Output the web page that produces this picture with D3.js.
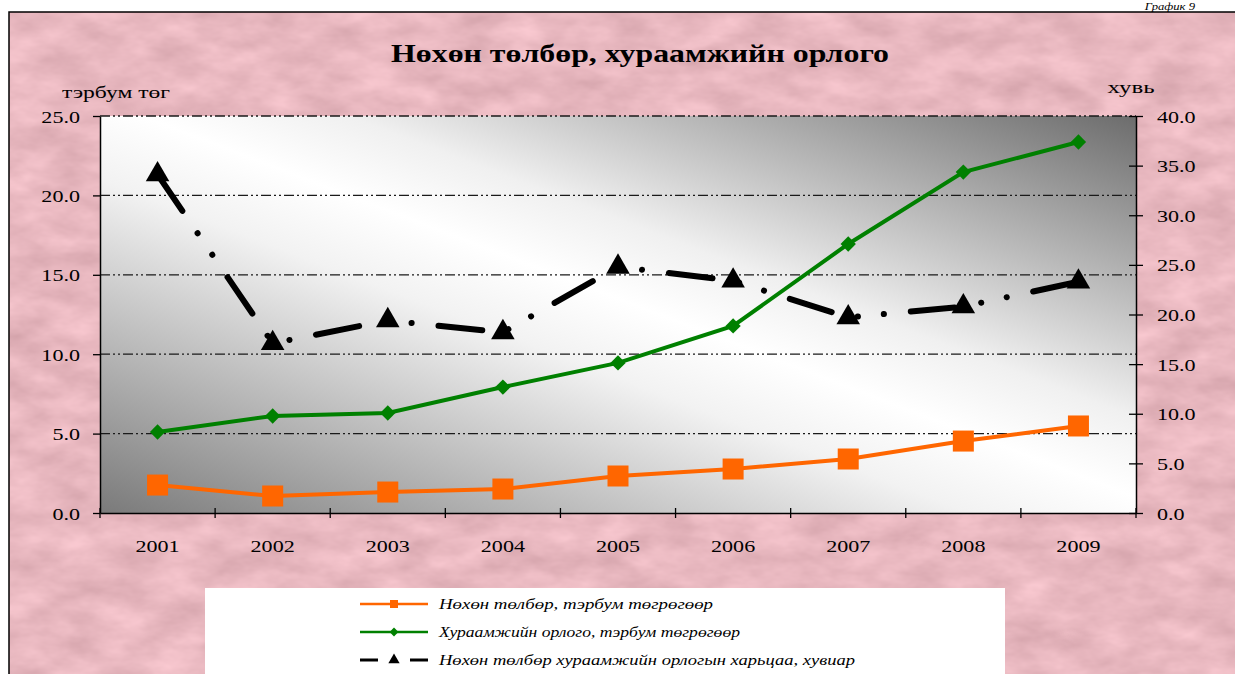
<!DOCTYPE html>
<html><head><meta charset="utf-8">
<script src="https://cdn.jsdelivr.net/npm/d3@7"></script>
<style>body{margin:0;background:#fff;overflow:hidden} svg{display:block}</style>
</head><body><svg id="c" width="1235" height="674"></svg>
<script>
// ---- data ----
const years = ["2001","2002","2003","2004","2005","2006","2007","2008","2009"];
const payout = [1.76,1.07,1.32,1.51,2.33,2.77,3.40,4.53,5.48];        // Нөхөн төлбөр, тэрбум төгрөгөөр
const premium = [5.10,6.11,6.30,7.93,9.45,11.78,16.94,21.47,23.36];   // Хураамжийн орлого, тэрбум төгрөгөөр
const ratio = [34.1,17.1,19.4,18.2,24.8,23.4,19.7,20.8,23.3];        // харьцаа, хувиар
const leftTicks = [0,5,10,15,20,25];
const rightTicks = [0,5,10,15,20,25,30,35,40];
const seriesNames = ["Нөхөн төлбөр, тэрбум төгрөгөөр","Хураамжийн орлого, тэрбум төгрөгөөр","Нөхөн төлбөр хураамжийн орлогын харьцаа, хувиар"];
const titleText = "Нөхөн төлбөр, хураамжийн орлого";

const svg = d3.select("#c");
const defs = svg.append("defs");
const f = defs.append("filter").attr("id","paper").attr("x",0).attr("y",0).attr("width","100%").attr("height","100%")
  .attr("color-interpolation-filters","sRGB");
f.append("feTurbulence").attr("type","fractalNoise").attr("baseFrequency","0.02 0.04").attr("numOctaves",4).attr("seed",7);
f.append("feColorMatrix").attr("type","matrix").attr("values","0.18 0 0 0 0.82  0.18 0 0 0 0.63  0.18 0 0 0 0.66  0 0 0 0 1");
const g1 = defs.append("linearGradient").attr("id","plotbg").attr("x1",0).attr("y1",1).attr("x2",1).attr("y2",0);
[[0,"#7a7a7a"],[0.42,"#f2f2f2"],[0.52,"#ffffff"],[0.62,"#f0f0f0"],[1,"#6c6c6c"]].forEach(([o,c])=>g1.append("stop").attr("offset",o).attr("stop-color",c));

const SX = 1.3;
function txt(parent,x,y,s,o={}){
  const t = parent.append("text").attr("transform",`translate(${x},${y}) scale(${o.sx||SX},1)`)
    .attr("font-family",o.family||"'Liberation Serif','Times New Roman',serif")
    .attr("font-size",o.size||16).attr("font-weight",o.weight||"normal").attr("font-style",o.style||"normal")
    .attr("text-anchor",o.anchor||"start").attr("fill","#000").text(s);
  if(o.len){ t.attr("textLength",o.len/(o.sx||SX)).attr("lengthAdjust","spacingAndGlyphs"); }
  return t;
}

// page texts
txt(svg,1195,10,"График 9",{size:11,style:"italic",anchor:"end",sx:1.15});
// frame
svg.append("rect").attr("x",9).attr("y",12).attr("width",1240).attr("height",700).attr("filter","url(#paper)");
svg.append("rect").attr("x",9).attr("y",12).attr("width",1240).attr("height",700).attr("fill","none").attr("stroke","#000").attr("stroke-width",1.5);

const L=100,R=1136,T=116,B=513;
const x = d3.scaleBand().domain(years).range([L,R]);
const yL = d3.scaleLinear().domain([0,25]).range([B,T]);
const yR = d3.scaleLinear().domain([0,40]).range([B,T]);

svg.append("rect").attr("x",L).attr("y",T).attr("width",R-L).attr("height",B-T).attr("fill","url(#plotbg)");

// gridlines
svg.append("g").selectAll("line").data(leftTicks.filter(d=>d>0)).join("line")
  .attr("x1",L).attr("x2",R).attr("y1",d=>yL(d)).attr("y2",d=>yL(d))
  .attr("stroke","#1a1a1a").attr("stroke-width",1.3).attr("stroke-dasharray","10,3,2,3,2,3");

// axes
const axL = svg.append("g").attr("transform",`translate(${L},0)`)
  .call(d3.axisLeft(yL).tickValues(leftTicks).tickFormat(d3.format(".1f")).tickSize(7).tickSizeOuter(0));
const axR = svg.append("g").attr("transform",`translate(${R},0)`)
  .call(d3.axisRight(yR).tickValues(rightTicks).tickFormat(d3.format(".1f")).tickSize(7).tickSizeOuter(0));
const axB = svg.append("g").attr("transform",`translate(0,${B})`)
  .call(d3.axisBottom(x).tickSize(7).tickSizeOuter(0));
[axL,axR,axB].forEach(a=>{a.select(".domain").attr("stroke","#000").attr("stroke-width",1.5);a.selectAll(".tick line").attr("stroke","#000").attr("stroke-width",1.3);});
// bottom ticks at category boundaries
axB.selectAll(".tick line").remove();
axB.selectAll(".bnd").data(d3.range(years.length+1)).join("line").attr("class","bnd")
  .attr("x1",i=>L+i*x.step()).attr("x2",i=>L+i*x.step()).attr("y1",-5).attr("y2",5).attr("stroke","#000").attr("stroke-width",1.3);
axR.selectAll(".tick line").attr("x1",-7);
// stretched tick labels
axL.selectAll(".tick").each(function(d){const t=d3.select(this);t.select("text").remove();txt(t,-20,6,d3.format(".1f")(d),{anchor:"end",size:17});});
axR.selectAll(".tick").each(function(d){const t=d3.select(this);t.select("text").remove();txt(t,21,6,d3.format(".1f")(d),{anchor:"start",size:17});});
axB.selectAll(".tick").each(function(d){const t=d3.select(this);t.select("text").remove();txt(t,0,39,d,{anchor:"middle",size:17});});

// title & axis titles
txt(svg,640,62,titleText,{size:25,weight:"bold",anchor:"middle",len:498});
txt(svg,116,98,"тэрбум төг",{size:17,anchor:"middle",len:108});
txt(svg,1131,93,"хувь",{size:17,anchor:"middle",len:47});

// series
const line = (ys,arr)=>d3.line().x((d,i)=>x(years[i])+x.bandwidth()/2).y(d=>ys(d))(arr);
const cx = i=>x(years[i])+x.bandwidth()/2;

svg.append("path").attr("d",line(yL,premium)).attr("fill","none").attr("stroke","#008000").attr("stroke-width",4);
svg.append("g").selectAll("path").data(premium).join("path")
  .attr("transform",(d,i)=>`translate(${cx(i)},${yL(d)})`).attr("d",d3.symbol(d3.symbolDiamond2,150)).attr("fill","#008000");

svg.append("path").attr("d",line(yL,payout)).attr("fill","none").attr("stroke","#ff6600").attr("stroke-width",4);
svg.append("g").selectAll("rect").data(payout).join("rect")
  .attr("x",(d,i)=>cx(i)-10.5).attr("y",d=>yL(d)-10.5).attr("width",21).attr("height",21).attr("fill","#ff6600");

svg.append("path").attr("d",line(yR,ratio)).attr("fill","none").attr("stroke","#000").attr("stroke-width",6)
  .attr("stroke-linecap","round").attr("stroke-dasharray","44,27,0.1,26,0.1,27");
svg.append("g").selectAll("path").data(ratio).join("path")
  .attr("transform",(d,i)=>`translate(${cx(i)},${yR(d)})`).attr("d",d3.symbol(d3.symbolTriangle,240)).attr("fill","#000");

// legend
const lg = svg.append("g");
lg.append("rect").attr("x",205).attr("y",588).attr("width",800).attr("height",100).attr("fill","#fff");
const rows=[604,632,660], lens=[274,301,416];
const colors=["#ff6600","#008000","#000"];
rows.forEach((ry,k)=>{
  if(k<2){
    lg.append("line").attr("x1",360).attr("x2",428).attr("y1",ry).attr("y2",ry).attr("stroke",colors[k]).attr("stroke-width",2.5);
  } else {
    lg.append("line").attr("x1",360).attr("x2",378).attr("y1",ry).attr("y2",ry).attr("stroke","#000").attr("stroke-width",3);
    lg.append("line").attr("x1",410).attr("x2",428).attr("y1",ry).attr("y2",ry).attr("stroke","#000").attr("stroke-width",3);
  }
  const m = lg.append("path").attr("transform",`translate(394,${ry})`).attr("fill",colors[k]);
  if(k===0) m.attr("d",d3.symbol(d3.symbolSquare,64));
  if(k===1) m.attr("d",d3.symbol(d3.symbolDiamond2,50));
  if(k===2) m.attr("d",d3.symbol(d3.symbolTriangle,55));
  txt(lg,439,ry+5,seriesNames[k],{size:15,style:"italic",len:lens[k]});
});
</script></body></html>
